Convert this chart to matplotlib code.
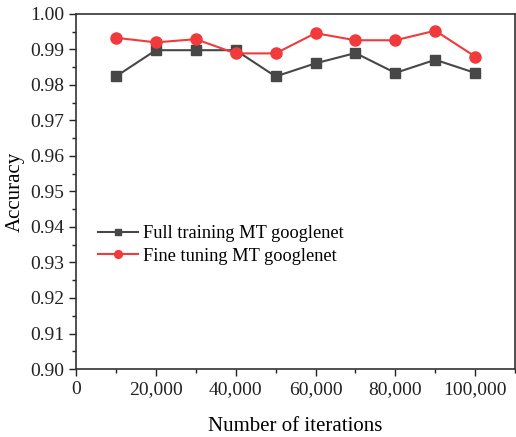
import matplotlib
matplotlib.use("Agg")
import matplotlib.pyplot as plt
from matplotlib.ticker import MultipleLocator, FuncFormatter

iterations = [10000, 20000, 30000, 40000, 50000, 60000, 70000, 80000, 90000, 100000]
full_training = [0.9824, 0.9898, 0.9898, 0.9898, 0.9824, 0.9861, 0.9890, 0.9834, 0.9871, 0.9834]
fine_tuning = [0.9933, 0.9920, 0.9929, 0.9889, 0.9889, 0.9946, 0.9926, 0.9926, 0.9953, 0.9880]
labels = ["Full training MT googlenet", "Fine tuning MT googlenet"]

plt.rcParams['font.family'] = ['Liberation Serif', 'DejaVu Serif']

fig = plt.figure(figsize=(5.16, 4.37), dpi=100)
ax = fig.add_axes([0.1473, 0.1556, 0.851, 0.8124])

ax.plot(iterations, full_training, color='#474747', marker='s', markersize=7,
        linewidth=1.5, label=labels[0])
ax.plot(iterations, fine_tuning, color='#f03a3c', marker='o', markersize=8,
        linewidth=1.5, label=labels[1])

ax.set_xlim(0, 110000)
ax.set_ylim(0.90, 1.00)
ax.xaxis.set_major_locator(MultipleLocator(20000))
ax.xaxis.set_minor_locator(MultipleLocator(10000))
ax.yaxis.set_major_locator(MultipleLocator(0.01))
ax.yaxis.set_minor_locator(MultipleLocator(0.005))
ax.xaxis.set_major_formatter(FuncFormatter(lambda v, p: f"{int(v):,}"))
ax.yaxis.set_major_formatter(FuncFormatter(lambda v, p: f"{v:.2f}"))
ax.tick_params(axis='both', which='major', direction='out', length=5, width=1,
               labelsize=14, top=False, right=False, colors='#222222')
ax.tick_params(axis='both', which='minor', direction='out', length=3, width=1,
               top=False, right=False, colors='#222222')
for s in ax.spines.values():
    s.set_linewidth(1.2)
    s.set_color('#333333')

ax.set_xlabel("Number of iterations", fontsize=15, labelpad=14)
ax.set_ylabel("Accuracy", fontsize=15, labelpad=4)

ax.legend(loc='upper left', bbox_to_anchor=(0.033, 0.425), frameon=False,
          fontsize=13.2, handlelength=2.2, numpoints=1, labelspacing=0.28,
          handletextpad=0.25, borderaxespad=0, markerscale=0.7)

fig.savefig("out.png", dpi=100)
